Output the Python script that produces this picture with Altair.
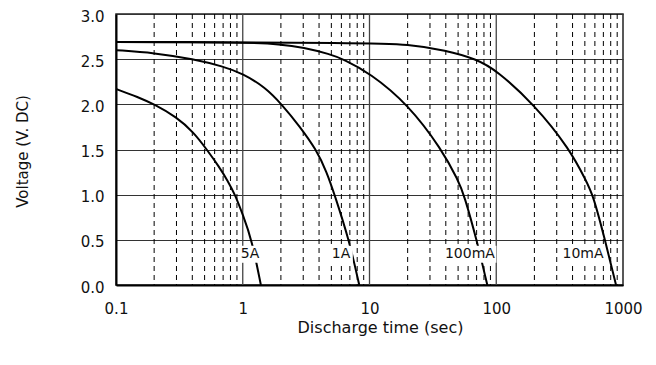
import altair as alt
import pandas as pd

# ---- data ----
t_5A = [0.1, 0.15, 0.2, 0.3, 0.41, 0.52, 0.65, 0.76, 0.87, 1.0, 1.18, 1.39]
v_5A = [2.17, 2.08, 2.0, 1.86, 1.69, 1.5, 1.31, 1.155, 1.0, 0.78, 0.5, 0.0]

t_1A = [0.1, 0.2, 0.41, 0.7, 1.0, 1.5, 2.03, 2.8, 3.8, 4.6, 5.3, 6.9, 8.3]
v_1A = [2.60, 2.57, 2.5, 2.42, 2.34, 2.19, 2.0, 1.76, 1.5, 1.25, 1.0, 0.5, 0.0]

t_100mA = [0.1, 1.0, 2.0, 3.0, 4.9, 6.2, 10, 20.2, 37.2, 50.2, 55.7, 70.1, 85]
v_100mA = [2.69, 2.69, 2.665, 2.63, 2.555, 2.5, 2.35, 2.0, 1.5, 1.155, 1.0, 0.5, 0.0]

t_10mA = [0.1, 10, 20, 40, 70, 100, 199, 382, 510, 580, 721, 881]
v_10mA = [2.69, 2.68, 2.665, 2.6, 2.5, 2.38, 2.0, 1.5, 1.155, 1.0, 0.5, 0.0]

label_text = ["5A", "1A", "100mA", "10mA"]
label_t = [1.14, 5.96, 62, 484]
label_v = [0.34, 0.34, 0.34, 0.34]

x_ticks = [0.1, 1, 10, 100, 1000]
major_x = [1, 10, 100]
minor_x = [0.2, 0.3, 0.4, 0.5, 0.6, 0.7, 0.8, 0.9,
           2, 3, 4, 5, 6, 7, 8, 9,
           20, 30, 40, 50, 60, 70, 80, 90,
           200, 300, 400, 500, 600, 700, 800, 900]
y_ticks = [0.0, 0.5, 1.0, 1.5, 2.0, 2.5, 3.0]

FONT = "DejaVu Sans"
W, H = 507, 271

rows = []
for name, ts, vs in [("5A", t_5A, v_5A), ("1A", t_1A, v_1A),
                     ("100mA", t_100mA, v_100mA), ("10mA", t_10mA, v_10mA)]:
    for i, (t, v) in enumerate(zip(ts, vs)):
        rows.append({"series": name, "t": t, "v": v, "order": i})
curves = pd.DataFrame(rows)

xscale = alt.Scale(type="log", domain=[0.1, 1000], nice=False)
yscale = alt.Scale(domain=[0, 3], nice=False, zero=False)

x_axis = alt.Axis(values=x_ticks, format="~g", grid=False, ticks=False,
                  labelFont=FONT, labelFontSize=15, labelColor="#111",
                  labelPadding=16, labelFlush=False,
                  domainColor="#000", domainWidth=2,
                  title="Discharge time (sec)", titleFont=FONT, titleFontSize=16,
                  titleFontWeight="normal", titleColor="#111",
                  titleX=264, titleY=42, titleBaseline="middle", titleAlign="center")
y_axis = alt.Axis(values=y_ticks, format=".1f", grid=True, gridColor="#333",
                  gridWidth=1, ticks=False,
                  labelFont=FONT, labelFontSize=15, labelColor="#111",
                  labelPadding=12, labelOffset=2, domainColor="#000", domainWidth=2,
                  title="Voltage (V. DC)", titleFont=FONT, titleFontSize=15,
                  titleFontWeight="normal", titleColor="#111",
                  titleX=-94, titleY=137, titleAngle=-90,
                  titleBaseline="middle", titleAlign="center")

base_axes = alt.Chart(pd.DataFrame({"t": [0.1], "v": [0.0]})).mark_point(opacity=0).encode(
    x=alt.X("t:Q", scale=xscale, axis=x_axis),
    y=alt.Y("v:Q", scale=yscale, axis=y_axis),
)

minor = alt.Chart(pd.DataFrame({"t": minor_x})).mark_rule(
    color="#000", strokeWidth=1, strokeDash=[5, 4]
).encode(x=alt.X("t:Q", scale=xscale))

major = alt.Chart(pd.DataFrame({"t": major_x})).mark_rule(
    color="#444", strokeWidth=1.3
).encode(x=alt.X("t:Q", scale=xscale))

lines = alt.Chart(curves).mark_line(
    color="#000", strokeWidth=2, interpolate="basis", clip=True
).encode(
    x=alt.X("t:Q", scale=xscale),
    y=alt.Y("v:Q", scale=yscale),
    detail="series:N",
    order="order:Q",
)

labels_df = pd.DataFrame({"text": label_text, "t": label_t, "v": label_v})
boxes = []
for txt in label_text:
    w = 9.8 * len(txt) + 4
    boxes.append(
        alt.Chart(labels_df[labels_df["text"] == txt]).mark_rect(
            color="white", width=w, height=17
        ).encode(x=alt.X("t:Q", scale=xscale), y=alt.Y("v:Q", scale=yscale))
    )

texts = alt.Chart(labels_df).mark_text(
    font=FONT, fontSize=14, color="#111", align="center", baseline="middle"
).encode(x=alt.X("t:Q", scale=xscale), y=alt.Y("v:Q", scale=yscale), text="text:N")

chart = alt.layer(base_axes, minor, major, lines, *boxes, texts).properties(
    width=W, height=H,
    autosize=alt.AutoSizeParams(type="none"),
    padding={"left": 108, "top": 6, "right": 25, "bottom": 72},
).configure_view(stroke="#222", strokeWidth=1.5)

chart.save("out.html", embed_options={"renderer": "svg", "actions": False})
